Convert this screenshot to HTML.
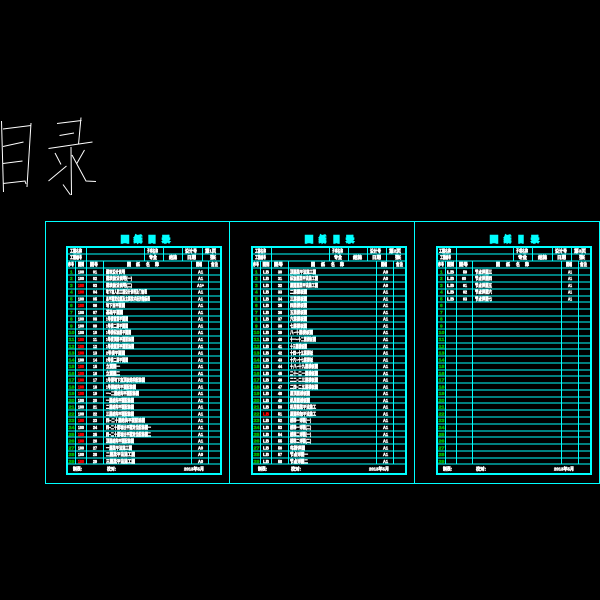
<!DOCTYPE html>
<html lang="zh"><head><meta charset="utf-8"><title>图纸目录</title>
<style>
html,body{margin:0;padding:0;background:#000;width:600px;height:600px;overflow:hidden}
svg{display:block}
.l{fill:none;stroke:#0ff;stroke-width:1;shape-rendering:crispEdges}
.o{fill:none;stroke:#0ff;stroke-width:2;shape-rendering:crispEdges}
text{font-family:"Liberation Sans","Noto Sans CJK SC",sans-serif;font-weight:700;font-size:4.8px;fill:#fff;stroke:#fff;stroke-width:.55;transform:translateY(-.4px)}
.g{fill:#0a0;stroke:#0a0;stroke-width:.5}
.r{fill:#f00;stroke:#f00}
.t{fill:#0ff;stroke:#0ff;font-size:8px;stroke-width:1.6;transform:none}
</style></head><body>
<svg width="600" height="600" viewBox="0 0 600 600" xmlns="http://www.w3.org/2000/svg">
<defs>
<path id="rows" d="M67 254H221M67 261H221M67 268H221M67 275H221M67 282H221M67 289H221M67 296H221M67 302H221M67 309H221M67 316H221M67 322H221M67 329H221M67 336H221M67 343H221M67 349H221M67 356H221M67 363H221M67 370H221M67 376H221M67 383H221M67 390H221M67 397H221M67 403H221M67 410H221M67 417H221M67 424H221M67 431H221M67 437H221M67 444H221M67 451H221M67 458H221M67 464H221"/>
</defs>
<!-- handwritten title -->
<g fill="none" stroke="#fff" stroke-width="1">
<path d="M1.5 121L3.5 192M3 129L31 125.500M31 123L27 187M3 146.500L23.500 142M3 163.500L22.500 161M3 183.500L25 181L26 184"/>
<path d="M57 123.500L81.500 120.500M59.500 135.500L74 133M81 117.500L78.500 144.500M48.500 148.500L92.500 142M71 147L71.500 195M63 184.500L70.500 195M55 153L61 164.500M48.500 181L66.500 166M72 155L86 181L96 181.500M84.500 150L76.500 164"/>
</g>
<!-- outer frames -->
<path class="l" d="M45.500 221.500H599.500V483.500H45.500ZM229.500 221.500V483.500M414.500 221.500V483.500"/>

<!-- PANEL 1 -->
<g>
<text class="t" x="121" y="242" textLength="8" lengthAdjust="spacingAndGlyphs">图</text><text class="t" x="134" y="242" textLength="8" lengthAdjust="spacingAndGlyphs">纸</text><text class="t" x="148" y="242" textLength="8" lengthAdjust="spacingAndGlyphs">目</text><text class="t" x="162" y="242" textLength="8" lengthAdjust="spacingAndGlyphs">录</text>
<use href="#rows" class="l"/>
<path class="o" d="M67 247H221V474H67Z"/>
<path class="l" d="M86.500 247V261M144.500 247V261M163.500 247V261M182.500 247V261M202.500 247V261M75.500 261V464M86.500 261V464M103.500 261V464M191.500 261V464M208.500 261V464"/>
<g>
<text x="70" y="253" textLength="12" lengthAdjust="spacingAndGlyphs">工程名称</text><text x="147" y="253" textLength="11" lengthAdjust="spacingAndGlyphs">子项名称</text><text x="185" y="253" textLength="12" lengthAdjust="spacingAndGlyphs">设计号</text><text x="205" y="253" textLength="11" lengthAdjust="spacingAndGlyphs">第1页</text>
<text x="70" y="259.500" textLength="12" lengthAdjust="spacingAndGlyphs">工程编号</text><text x="149" y="259.500" textLength="8" lengthAdjust="spacingAndGlyphs">专业</text><text x="169" y="259.500" textLength="8" lengthAdjust="spacingAndGlyphs">结施</text><text x="187" y="259.500" textLength="9" lengthAdjust="spacingAndGlyphs">日期</text><text x="210" y="259.500" textLength="6" lengthAdjust="spacingAndGlyphs">张</text>
<text x="68" y="266.500" textLength="6" lengthAdjust="spacingAndGlyphs">序号</text><text x="78" y="266.500" textLength="6" lengthAdjust="spacingAndGlyphs">图别</text><text x="90" y="266.500" textLength="8" lengthAdjust="spacingAndGlyphs">图号</text><text x="127" y="266.500" textLength="4" lengthAdjust="spacingAndGlyphs">图</text><text x="136" y="266.500" textLength="4" lengthAdjust="spacingAndGlyphs">纸</text><text x="146" y="266.500" textLength="4" lengthAdjust="spacingAndGlyphs">名</text><text x="155" y="266.500" textLength="4" lengthAdjust="spacingAndGlyphs">称</text><text x="196" y="266.500" textLength="6" lengthAdjust="spacingAndGlyphs">图幅</text><text x="211" y="266.500" textLength="7" lengthAdjust="spacingAndGlyphs">备注</text>
</g>
<text class="g" x="70" y="273.700">1</text><text x="78" y="273.700" textLength="6" lengthAdjust="spacingAndGlyphs">100</text><text x="93" y="273.700" textLength="4" lengthAdjust="spacingAndGlyphs">01</text><text x="106" y="273.700" textLength="19" lengthAdjust="spacingAndGlyphs">建筑设计说明</text><text x="198" y="273.700" textLength="5" lengthAdjust="spacingAndGlyphs">A1</text>
<text class="g" x="70" y="280.500">2</text><text x="78" y="280.500" textLength="6" lengthAdjust="spacingAndGlyphs">100</text><text x="93" y="280.500" textLength="4" lengthAdjust="spacingAndGlyphs">02</text><text x="106" y="280.500" textLength="26" lengthAdjust="spacingAndGlyphs">建筑做法说明(一)</text><text x="198" y="280.500" textLength="5" lengthAdjust="spacingAndGlyphs">A1</text>
<text class="g" x="70" y="287.200">3</text><text class="r" x="78" y="287.200" textLength="6" lengthAdjust="spacingAndGlyphs">100</text><text x="93" y="287.200" textLength="4" lengthAdjust="spacingAndGlyphs">03</text><text x="106" y="287.200" textLength="26" lengthAdjust="spacingAndGlyphs">建筑做法说明(二)</text><text x="197" y="287.200" textLength="7" lengthAdjust="spacingAndGlyphs">A1+</text>
<text class="g" x="70" y="294">4</text><text class="r" x="78" y="294" textLength="6" lengthAdjust="spacingAndGlyphs">100</text><text x="93" y="294" textLength="4" lengthAdjust="spacingAndGlyphs">04</text><text x="106" y="294" textLength="41" lengthAdjust="spacingAndGlyphs">地下室人防工程设计说明及门窗表</text><text x="198" y="294" textLength="5" lengthAdjust="spacingAndGlyphs">A1</text>
<text class="g" x="70" y="300.800">5</text><text x="78" y="300.800" textLength="6" lengthAdjust="spacingAndGlyphs">100</text><text x="93" y="300.800" textLength="4" lengthAdjust="spacingAndGlyphs">05</text><text x="106" y="300.800" textLength="44" lengthAdjust="spacingAndGlyphs">总平面定位图及主要技术经济指标表</text><text x="198" y="300.800" textLength="5" lengthAdjust="spacingAndGlyphs">A1</text>
<text class="g" x="70" y="307.600">6</text><text class="r" x="78" y="307.600" textLength="6" lengthAdjust="spacingAndGlyphs">100</text><text x="93" y="307.600" textLength="4" lengthAdjust="spacingAndGlyphs">06</text><text x="106" y="307.600" textLength="19" lengthAdjust="spacingAndGlyphs">地下室平面图</text><text x="198" y="307.600" textLength="5" lengthAdjust="spacingAndGlyphs">A1</text>
<text class="g" x="70" y="314.300">7</text><text x="78" y="314.300" textLength="6" lengthAdjust="spacingAndGlyphs">100</text><text x="93" y="314.300" textLength="4" lengthAdjust="spacingAndGlyphs">07</text><text x="106" y="314.300" textLength="17" lengthAdjust="spacingAndGlyphs">基础平面图</text><text x="198" y="314.300" textLength="5" lengthAdjust="spacingAndGlyphs">A1</text>
<text class="g" x="70" y="321.100">8</text><text x="78" y="321.100" textLength="6" lengthAdjust="spacingAndGlyphs">100</text><text x="93" y="321.100" textLength="4" lengthAdjust="spacingAndGlyphs">08</text><text x="106" y="321.100" textLength="22" lengthAdjust="spacingAndGlyphs">1号楼首层平面图</text><text x="198" y="321.100" textLength="5" lengthAdjust="spacingAndGlyphs">A1</text>
<text class="g" x="70" y="327.900">9</text><text x="78" y="327.900" textLength="6" lengthAdjust="spacingAndGlyphs">100</text><text x="93" y="327.900" textLength="4" lengthAdjust="spacingAndGlyphs">09</text><text x="106" y="327.900" textLength="22" lengthAdjust="spacingAndGlyphs">1号楼二层平面图</text><text x="198" y="327.900" textLength="5" lengthAdjust="spacingAndGlyphs">A1</text>
<text class="g" x="68.500" y="334.600" textLength="6" lengthAdjust="spacingAndGlyphs">10</text><text x="78" y="334.600" textLength="6" lengthAdjust="spacingAndGlyphs">100</text><text x="93" y="334.600" textLength="4" lengthAdjust="spacingAndGlyphs">10</text><text x="106" y="334.600" textLength="25" lengthAdjust="spacingAndGlyphs">1号楼标准层平面图</text><text x="198" y="334.600" textLength="5" lengthAdjust="spacingAndGlyphs">A1</text>
<text class="g" x="68.500" y="341.400" textLength="6" lengthAdjust="spacingAndGlyphs">11</text><text class="r" x="78" y="341.400" textLength="6" lengthAdjust="spacingAndGlyphs">100</text><text x="93" y="341.400" textLength="4" lengthAdjust="spacingAndGlyphs">11</text><text x="106" y="341.400" textLength="28" lengthAdjust="spacingAndGlyphs">1号楼顶层平面配筋图</text><text x="198" y="341.400" textLength="5" lengthAdjust="spacingAndGlyphs">A1</text>
<text class="g" x="68.500" y="348.200" textLength="6" lengthAdjust="spacingAndGlyphs">12</text><text class="r" x="78" y="348.200" textLength="6" lengthAdjust="spacingAndGlyphs">100</text><text x="93" y="348.200" textLength="4" lengthAdjust="spacingAndGlyphs">12</text><text x="106" y="348.200" textLength="28" lengthAdjust="spacingAndGlyphs">1号楼屋顶平面配筋图</text><text x="198" y="348.200" textLength="5" lengthAdjust="spacingAndGlyphs">A1</text>
<text class="g" x="68.500" y="354.900" textLength="6" lengthAdjust="spacingAndGlyphs">13</text><text class="r" x="78" y="354.900" textLength="6" lengthAdjust="spacingAndGlyphs">100</text><text x="93" y="354.900" textLength="4" lengthAdjust="spacingAndGlyphs">13</text><text x="106" y="354.900" textLength="19" lengthAdjust="spacingAndGlyphs">2号楼平面图</text><text x="198" y="354.900" textLength="5" lengthAdjust="spacingAndGlyphs">A1</text>
<text class="g" x="68.500" y="361.700" textLength="6" lengthAdjust="spacingAndGlyphs">14</text><text x="78" y="361.700" textLength="6" lengthAdjust="spacingAndGlyphs">100</text><text x="93" y="361.700" textLength="4" lengthAdjust="spacingAndGlyphs">14</text><text x="106" y="361.700" textLength="22" lengthAdjust="spacingAndGlyphs">2号楼二层平面图</text><text x="198" y="361.700" textLength="5" lengthAdjust="spacingAndGlyphs">A1</text>
<text class="g" x="68.500" y="368.500" textLength="6" lengthAdjust="spacingAndGlyphs">15</text><text class="r" x="78" y="368.500" textLength="6" lengthAdjust="spacingAndGlyphs">100</text><text x="93" y="368.500" textLength="4" lengthAdjust="spacingAndGlyphs">15</text><text x="106" y="368.500" textLength="14" lengthAdjust="spacingAndGlyphs">立面图一</text><text x="198" y="368.500" textLength="5" lengthAdjust="spacingAndGlyphs">A1</text>
<text class="g" x="68.500" y="375.300" textLength="6" lengthAdjust="spacingAndGlyphs">16</text><text class="r" x="78" y="375.300" textLength="6" lengthAdjust="spacingAndGlyphs">100</text><text x="93" y="375.300" textLength="4" lengthAdjust="spacingAndGlyphs">16</text><text x="106" y="375.300" textLength="14" lengthAdjust="spacingAndGlyphs">立面图二</text><text x="198" y="375.300" textLength="5" lengthAdjust="spacingAndGlyphs">A1</text>
<text class="g" x="68.500" y="382" textLength="6" lengthAdjust="spacingAndGlyphs">17</text><text class="r" x="78" y="382" textLength="6" lengthAdjust="spacingAndGlyphs">100</text><text x="93" y="382" textLength="4" lengthAdjust="spacingAndGlyphs">17</text><text x="106" y="382" textLength="39" lengthAdjust="spacingAndGlyphs">1号楼地下室顶板结构配筋图</text><text x="198" y="382" textLength="5" lengthAdjust="spacingAndGlyphs">A1</text>
<text class="g" x="68.500" y="388.800" textLength="6" lengthAdjust="spacingAndGlyphs">18</text><text class="r" x="78" y="388.800" textLength="6" lengthAdjust="spacingAndGlyphs">100</text><text x="93" y="388.800" textLength="4" lengthAdjust="spacingAndGlyphs">18</text><text x="106" y="388.800" textLength="30" lengthAdjust="spacingAndGlyphs">1号楼结构平面配筋图</text><text x="198" y="388.800" textLength="5" lengthAdjust="spacingAndGlyphs">A1</text>
<text class="g" x="68.500" y="395.600" textLength="6" lengthAdjust="spacingAndGlyphs">19</text><text class="r" x="78" y="395.600" textLength="6" lengthAdjust="spacingAndGlyphs">100</text><text x="93" y="395.600" textLength="4" lengthAdjust="spacingAndGlyphs">19</text><text x="106" y="395.600" textLength="33" lengthAdjust="spacingAndGlyphs">一~二层结构平面配筋图</text><text x="198" y="395.600" textLength="5" lengthAdjust="spacingAndGlyphs">A1</text>
<text class="g" x="68.500" y="402.300" textLength="6" lengthAdjust="spacingAndGlyphs">20</text><text x="78" y="402.300" textLength="6" lengthAdjust="spacingAndGlyphs">100</text><text x="93" y="402.300" textLength="4" lengthAdjust="spacingAndGlyphs">20</text><text x="106" y="402.300" textLength="28" lengthAdjust="spacingAndGlyphs">一层结构平面配筋图</text><text x="198" y="402.300" textLength="5" lengthAdjust="spacingAndGlyphs">A1</text>
<text class="g" x="68.500" y="409.100" textLength="6" lengthAdjust="spacingAndGlyphs">21</text><text x="78" y="409.100" textLength="6" lengthAdjust="spacingAndGlyphs">100</text><text x="93" y="409.100" textLength="4" lengthAdjust="spacingAndGlyphs">21</text><text x="106" y="409.100" textLength="28" lengthAdjust="spacingAndGlyphs">二层结构平面配筋图</text><text x="198" y="409.100" textLength="5" lengthAdjust="spacingAndGlyphs">A1</text>
<text class="g" x="68.500" y="415.900" textLength="6" lengthAdjust="spacingAndGlyphs">22</text><text x="78" y="415.900" textLength="6" lengthAdjust="spacingAndGlyphs">100</text><text x="93" y="415.900" textLength="4" lengthAdjust="spacingAndGlyphs">22</text><text x="106" y="415.900" textLength="28" lengthAdjust="spacingAndGlyphs">三层结构平面配筋图</text><text x="198" y="415.900" textLength="5" lengthAdjust="spacingAndGlyphs">A1</text>
<text class="g" x="68.500" y="422.600" textLength="6" lengthAdjust="spacingAndGlyphs">23</text><text class="r" x="78" y="422.600" textLength="6" lengthAdjust="spacingAndGlyphs">100</text><text x="93" y="422.600" textLength="4" lengthAdjust="spacingAndGlyphs">23</text><text x="106" y="422.600" textLength="39" lengthAdjust="spacingAndGlyphs">四~二十层结构平面配筋图</text><text x="198" y="422.600" textLength="5" lengthAdjust="spacingAndGlyphs">A1</text>
<text class="g" x="68.500" y="429.400" textLength="6" lengthAdjust="spacingAndGlyphs">24</text><text x="78" y="429.400" textLength="6" lengthAdjust="spacingAndGlyphs">100</text><text x="93" y="429.400" textLength="4" lengthAdjust="spacingAndGlyphs">24</text><text x="106" y="429.400" textLength="45" lengthAdjust="spacingAndGlyphs">四~二十层墙柱平面定位配筋图一</text><text x="198" y="429.400" textLength="5" lengthAdjust="spacingAndGlyphs">A1</text>
<text class="g" x="68.500" y="436.200" textLength="6" lengthAdjust="spacingAndGlyphs">25</text><text class="r" x="78" y="436.200" textLength="6" lengthAdjust="spacingAndGlyphs">100</text><text x="93" y="436.200" textLength="4" lengthAdjust="spacingAndGlyphs">25</text><text x="106" y="436.200" textLength="45" lengthAdjust="spacingAndGlyphs">四~二十层墙柱平面定位配筋图二</text><text x="198" y="436.200" textLength="5" lengthAdjust="spacingAndGlyphs">A1</text>
<text class="g" x="68.500" y="443" textLength="6" lengthAdjust="spacingAndGlyphs">26</text><text class="r" x="78" y="443" textLength="6" lengthAdjust="spacingAndGlyphs">100</text><text x="93" y="443" textLength="4" lengthAdjust="spacingAndGlyphs">26</text><text x="106" y="443" textLength="28" lengthAdjust="spacingAndGlyphs">顶层结构平面配筋图</text><text x="198" y="443" textLength="5" lengthAdjust="spacingAndGlyphs">A1</text>
<text class="g" x="68.500" y="449.700" textLength="6" lengthAdjust="spacingAndGlyphs">27</text><text x="78" y="449.700" textLength="6" lengthAdjust="spacingAndGlyphs">100</text><text x="93" y="449.700" textLength="4" lengthAdjust="spacingAndGlyphs">27</text><text x="106" y="449.700" textLength="26" lengthAdjust="spacingAndGlyphs">一层梁平法施工图</text><text x="198" y="449.700" textLength="5" lengthAdjust="spacingAndGlyphs">A0</text>
<text class="g" x="68.500" y="456.500" textLength="6" lengthAdjust="spacingAndGlyphs">28</text><text x="78" y="456.500" textLength="6" lengthAdjust="spacingAndGlyphs">100</text><text x="93" y="456.500" textLength="4" lengthAdjust="spacingAndGlyphs">28</text><text x="106" y="456.500" textLength="29" lengthAdjust="spacingAndGlyphs">二层梁平法施工图</text><text x="198" y="456.500" textLength="5" lengthAdjust="spacingAndGlyphs">A0</text>
<text class="g" x="68.500" y="463.300" textLength="6" lengthAdjust="spacingAndGlyphs">29</text><text class="r" x="78" y="463.300" textLength="6" lengthAdjust="spacingAndGlyphs">100</text><text x="93" y="463.300" textLength="4" lengthAdjust="spacingAndGlyphs">29</text><text x="106" y="463.300" textLength="29" lengthAdjust="spacingAndGlyphs">三层梁平法施工图</text><text x="198" y="463.300" textLength="5" lengthAdjust="spacingAndGlyphs">A0</text>
<text x="73" y="471" textLength="9" lengthAdjust="spacingAndGlyphs">制表:</text><text x="107" y="471" textLength="9" lengthAdjust="spacingAndGlyphs">校对:</text><text x="184" y="471" textLength="20" lengthAdjust="spacingAndGlyphs">2013年5月</text>
</g>

<!-- PANEL 2 -->
<g transform="translate(185 0)">
<text class="t" x="120" y="242" textLength="8" lengthAdjust="spacingAndGlyphs">图</text><text class="t" x="134" y="242" textLength="7" lengthAdjust="spacingAndGlyphs">纸</text><text class="t" x="148" y="242" textLength="7" lengthAdjust="spacingAndGlyphs">目</text><text class="t" x="161" y="242" textLength="8" lengthAdjust="spacingAndGlyphs">录</text>
<use href="#rows" class="l"/>
<path class="o" d="M67 247H221V474H67Z"/>
<path class="l" d="M86.500 247V261M144.500 247V261M163.500 247V261M182.500 247V261M201.500 247V261M75.500 261V464M86.500 261V464M103.500 261V464M191.500 261V464M208.500 261V464"/>
<text x="70" y="253" textLength="11" lengthAdjust="spacingAndGlyphs">工程名称</text><text x="147" y="253" textLength="11" lengthAdjust="spacingAndGlyphs">子项名称</text><text x="185" y="253" textLength="11" lengthAdjust="spacingAndGlyphs">设计号</text><text x="204" y="253" textLength="12" lengthAdjust="spacingAndGlyphs">第2页</text>
<text x="70" y="259.500" textLength="11" lengthAdjust="spacingAndGlyphs">工程编号</text><text x="149" y="259.500" textLength="8" lengthAdjust="spacingAndGlyphs">专业</text><text x="168" y="259.500" textLength="9" lengthAdjust="spacingAndGlyphs">结施</text><text x="187" y="259.500" textLength="9" lengthAdjust="spacingAndGlyphs">日期</text><text x="210" y="259.500" textLength="6" lengthAdjust="spacingAndGlyphs">张</text>
<text x="68" y="266.500" textLength="6" lengthAdjust="spacingAndGlyphs">序号</text><text x="77.500" y="266.500" textLength="7" lengthAdjust="spacingAndGlyphs">图别</text><text x="89" y="266.500" textLength="9" lengthAdjust="spacingAndGlyphs">图号</text><text x="126" y="266.500" textLength="4" lengthAdjust="spacingAndGlyphs">图</text><text x="136" y="266.500" textLength="4" lengthAdjust="spacingAndGlyphs">纸</text><text x="146" y="266.500" textLength="4" lengthAdjust="spacingAndGlyphs">名</text><text x="155" y="266.500" textLength="4" lengthAdjust="spacingAndGlyphs">称</text><text x="196" y="266.500" textLength="6" lengthAdjust="spacingAndGlyphs">图幅</text><text x="211" y="266.500" textLength="7" lengthAdjust="spacingAndGlyphs">备注</text>
<text class="g" x="70" y="273.700">1</text><text x="78" y="273.700" textLength="6" lengthAdjust="spacingAndGlyphs">LB</text><text x="93" y="273.700" textLength="4" lengthAdjust="spacingAndGlyphs">30</text><text x="105" y="273.700" textLength="26" lengthAdjust="spacingAndGlyphs">顶层梁平法施工图</text><text x="198" y="273.700" textLength="5" lengthAdjust="spacingAndGlyphs">A0</text>
<text class="g" x="70" y="280.500">2</text><text x="78" y="280.500" textLength="6" lengthAdjust="spacingAndGlyphs">LB</text><text x="93" y="280.500" textLength="4" lengthAdjust="spacingAndGlyphs">31</text><text x="105" y="280.500" textLength="28" lengthAdjust="spacingAndGlyphs">标准层梁平法施工图</text><text x="198" y="280.500" textLength="5" lengthAdjust="spacingAndGlyphs">A0</text>
<text class="g" x="70" y="287.200">3</text><text x="78" y="287.200" textLength="6" lengthAdjust="spacingAndGlyphs">LB</text><text x="93" y="287.200" textLength="4" lengthAdjust="spacingAndGlyphs">32</text><text x="105" y="287.200" textLength="28" lengthAdjust="spacingAndGlyphs">屋面层梁平法施工图</text><text x="198" y="287.200" textLength="5" lengthAdjust="spacingAndGlyphs">A0</text>
<text class="g" x="70" y="294">4</text><text x="78" y="294" textLength="6" lengthAdjust="spacingAndGlyphs">LB</text><text x="93" y="294" textLength="4" lengthAdjust="spacingAndGlyphs">33</text><text x="105" y="294" textLength="17" lengthAdjust="spacingAndGlyphs">二层楼板图</text><text x="198" y="294" textLength="5" lengthAdjust="spacingAndGlyphs">A1</text>
<text class="g" x="70" y="300.800">5</text><text x="78" y="300.800" textLength="6" lengthAdjust="spacingAndGlyphs">LB</text><text x="93" y="300.800" textLength="4" lengthAdjust="spacingAndGlyphs">34</text><text x="105" y="300.800" textLength="17" lengthAdjust="spacingAndGlyphs">三层楼板图</text><text x="198" y="300.800" textLength="5" lengthAdjust="spacingAndGlyphs">A1</text>
<text class="g" x="70" y="307.600">6</text><text x="78" y="307.600" textLength="6" lengthAdjust="spacingAndGlyphs">LB</text><text x="93" y="307.600" textLength="4" lengthAdjust="spacingAndGlyphs">35</text><text x="105" y="307.600" textLength="17" lengthAdjust="spacingAndGlyphs">四层楼板图</text><text x="198" y="307.600" textLength="5" lengthAdjust="spacingAndGlyphs">A1</text>
<text class="g" x="70" y="314.300">7</text><text x="78" y="314.300" textLength="6" lengthAdjust="spacingAndGlyphs">LB</text><text x="93" y="314.300" textLength="4" lengthAdjust="spacingAndGlyphs">36</text><text x="105" y="314.300" textLength="17" lengthAdjust="spacingAndGlyphs">五层楼板图</text><text x="198" y="314.300" textLength="5" lengthAdjust="spacingAndGlyphs">A1</text>
<text class="g" x="70" y="321.100">8</text><text x="78" y="321.100" textLength="6" lengthAdjust="spacingAndGlyphs">LB</text><text x="93" y="321.100" textLength="4" lengthAdjust="spacingAndGlyphs">37</text><text x="105" y="321.100" textLength="17" lengthAdjust="spacingAndGlyphs">六层楼板图</text><text x="198" y="321.100" textLength="5" lengthAdjust="spacingAndGlyphs">A1</text>
<text class="g" x="70" y="327.900">9</text><text x="78" y="327.900" textLength="6" lengthAdjust="spacingAndGlyphs">LB</text><text x="93" y="327.900" textLength="4" lengthAdjust="spacingAndGlyphs">38</text><text x="105" y="327.900" textLength="17" lengthAdjust="spacingAndGlyphs">七层楼板图</text><text x="198" y="327.900" textLength="5" lengthAdjust="spacingAndGlyphs">A1</text>
<text class="g" x="68.500" y="334.600" textLength="6" lengthAdjust="spacingAndGlyphs">10</text><text x="78" y="334.600" textLength="6" lengthAdjust="spacingAndGlyphs">LB</text><text x="93" y="334.600" textLength="4" lengthAdjust="spacingAndGlyphs">39</text><text x="105" y="334.600" textLength="23" lengthAdjust="spacingAndGlyphs">八~十层楼板图</text><text x="198" y="334.600" textLength="5" lengthAdjust="spacingAndGlyphs">A1</text>
<text class="g" x="68.500" y="341.400" textLength="6" lengthAdjust="spacingAndGlyphs">11</text><text x="78" y="341.400" textLength="6" lengthAdjust="spacingAndGlyphs">LB</text><text x="93" y="341.400" textLength="4" lengthAdjust="spacingAndGlyphs">40</text><text x="105" y="341.400" textLength="26" lengthAdjust="spacingAndGlyphs">十一~十二层楼板图</text><text x="198" y="341.400" textLength="5" lengthAdjust="spacingAndGlyphs">A1</text>
<text class="g" x="68.500" y="348.200" textLength="6" lengthAdjust="spacingAndGlyphs">12</text><text x="78" y="348.200" textLength="6" lengthAdjust="spacingAndGlyphs">LB</text><text x="93" y="348.200" textLength="4" lengthAdjust="spacingAndGlyphs">41</text><text x="105" y="348.200" textLength="17" lengthAdjust="spacingAndGlyphs">十三层楼板图</text><text x="198" y="348.200" textLength="5" lengthAdjust="spacingAndGlyphs">A1</text>
<text class="g" x="68.500" y="354.900" textLength="6" lengthAdjust="spacingAndGlyphs">13</text><text x="78" y="354.900" textLength="6" lengthAdjust="spacingAndGlyphs">LB</text><text x="93" y="354.900" textLength="4" lengthAdjust="spacingAndGlyphs">42</text><text x="105" y="354.900" textLength="23" lengthAdjust="spacingAndGlyphs">十四~十五层楼板</text><text x="198" y="354.900" textLength="5" lengthAdjust="spacingAndGlyphs">A1</text>
<text class="g" x="68.500" y="361.700" textLength="6" lengthAdjust="spacingAndGlyphs">14</text><text x="78" y="361.700" textLength="6" lengthAdjust="spacingAndGlyphs">LB</text><text x="93" y="361.700" textLength="4" lengthAdjust="spacingAndGlyphs">43</text><text x="105" y="361.700" textLength="23" lengthAdjust="spacingAndGlyphs">十六~十七层楼板</text><text x="198" y="361.700" textLength="5" lengthAdjust="spacingAndGlyphs">A1</text>
<text class="g" x="68.500" y="368.500" textLength="6" lengthAdjust="spacingAndGlyphs">15</text><text x="78" y="368.500" textLength="6" lengthAdjust="spacingAndGlyphs">LB</text><text x="93" y="368.500" textLength="4" lengthAdjust="spacingAndGlyphs">44</text><text x="105" y="368.500" textLength="28" lengthAdjust="spacingAndGlyphs">十八~十九层楼板图</text><text x="198" y="368.500" textLength="5" lengthAdjust="spacingAndGlyphs">A1</text>
<text class="g" x="68.500" y="375.300" textLength="6" lengthAdjust="spacingAndGlyphs">16</text><text x="78" y="375.300" textLength="6" lengthAdjust="spacingAndGlyphs">LB</text><text x="93" y="375.300" textLength="4" lengthAdjust="spacingAndGlyphs">45</text><text x="105" y="375.300" textLength="28" lengthAdjust="spacingAndGlyphs">二十~二一层楼板图</text><text x="198" y="375.300" textLength="5" lengthAdjust="spacingAndGlyphs">A1</text>
<text class="g" x="68.500" y="382" textLength="6" lengthAdjust="spacingAndGlyphs">17</text><text x="78" y="382" textLength="6" lengthAdjust="spacingAndGlyphs">LB</text><text x="93" y="382" textLength="4" lengthAdjust="spacingAndGlyphs">46</text><text x="105" y="382" textLength="28" lengthAdjust="spacingAndGlyphs">二二~二三层楼板图</text><text x="198" y="382" textLength="5" lengthAdjust="spacingAndGlyphs">A1</text>
<text class="g" x="68.500" y="388.800" textLength="6" lengthAdjust="spacingAndGlyphs">18</text><text x="78" y="388.800" textLength="6" lengthAdjust="spacingAndGlyphs">LB</text><text x="93" y="388.800" textLength="4" lengthAdjust="spacingAndGlyphs">47</text><text x="105" y="388.800" textLength="28" lengthAdjust="spacingAndGlyphs">二四~二五层楼板图</text><text x="198" y="388.800" textLength="5" lengthAdjust="spacingAndGlyphs">A1</text>
<text class="g" x="68.500" y="395.600" textLength="6" lengthAdjust="spacingAndGlyphs">19</text><text x="78" y="395.600" textLength="6" lengthAdjust="spacingAndGlyphs">LB</text><text x="93" y="395.600" textLength="4" lengthAdjust="spacingAndGlyphs">48</text><text x="105" y="395.600" textLength="20" lengthAdjust="spacingAndGlyphs">屋顶层楼板图</text><text x="198" y="395.600" textLength="5" lengthAdjust="spacingAndGlyphs">A1</text>
<text class="g" x="68.500" y="402.300" textLength="6" lengthAdjust="spacingAndGlyphs">20</text><text x="78" y="402.300" textLength="6" lengthAdjust="spacingAndGlyphs">LB</text><text x="93" y="402.300" textLength="4" lengthAdjust="spacingAndGlyphs">49</text><text x="105" y="402.300" textLength="20" lengthAdjust="spacingAndGlyphs">机房层楼板图</text><text x="198" y="402.300" textLength="5" lengthAdjust="spacingAndGlyphs">A1</text>
<text class="g" x="68.500" y="409.100" textLength="6" lengthAdjust="spacingAndGlyphs">21</text><text x="78" y="409.100" textLength="6" lengthAdjust="spacingAndGlyphs">LB</text><text x="93" y="409.100" textLength="4" lengthAdjust="spacingAndGlyphs">50</text><text x="105" y="409.100" textLength="26" lengthAdjust="spacingAndGlyphs">机房层梁平法施工</text><text x="198" y="409.100" textLength="5" lengthAdjust="spacingAndGlyphs">A1</text>
<text class="g" x="68.500" y="415.900" textLength="6" lengthAdjust="spacingAndGlyphs">22</text><text class="r" x="78" y="415.900" textLength="6" lengthAdjust="spacingAndGlyphs">LB</text><text x="93" y="415.900" textLength="4" lengthAdjust="spacingAndGlyphs">51</text><text x="105" y="415.900" textLength="26" lengthAdjust="spacingAndGlyphs">屋面构架平法施工</text><text x="198" y="415.900" textLength="5" lengthAdjust="spacingAndGlyphs">A1</text>
<text class="g" x="68.500" y="422.600" textLength="6" lengthAdjust="spacingAndGlyphs">23</text><text x="78" y="422.600" textLength="6" lengthAdjust="spacingAndGlyphs">LB</text><text x="93" y="422.600" textLength="4" lengthAdjust="spacingAndGlyphs">52</text><text x="105" y="422.600" textLength="21" lengthAdjust="spacingAndGlyphs">楼梯一详图(一)</text><text x="198" y="422.600" textLength="5" lengthAdjust="spacingAndGlyphs">A1</text>
<text class="g" x="68.500" y="429.400" textLength="6" lengthAdjust="spacingAndGlyphs">24</text><text x="78" y="429.400" textLength="6" lengthAdjust="spacingAndGlyphs">LB</text><text x="93" y="429.400" textLength="4" lengthAdjust="spacingAndGlyphs">53</text><text x="105" y="429.400" textLength="21" lengthAdjust="spacingAndGlyphs">楼梯一详图(二)</text><text x="198" y="429.400" textLength="5" lengthAdjust="spacingAndGlyphs">A1</text>
<text class="g" x="68.500" y="436.200" textLength="6" lengthAdjust="spacingAndGlyphs">25</text><text x="78" y="436.200" textLength="6" lengthAdjust="spacingAndGlyphs">LB</text><text x="93" y="436.200" textLength="4" lengthAdjust="spacingAndGlyphs">54</text><text x="105" y="436.200" textLength="21" lengthAdjust="spacingAndGlyphs">楼梯二详图(一)</text><text x="198" y="436.200" textLength="5" lengthAdjust="spacingAndGlyphs">A1</text>
<text class="g" x="68.500" y="443" textLength="6" lengthAdjust="spacingAndGlyphs">26</text><text x="78" y="443" textLength="6" lengthAdjust="spacingAndGlyphs">LB</text><text x="93" y="443" textLength="4" lengthAdjust="spacingAndGlyphs">55</text><text x="105" y="443" textLength="21" lengthAdjust="spacingAndGlyphs">楼梯二详图(二)</text><text x="198" y="443" textLength="5" lengthAdjust="spacingAndGlyphs">A1</text>
<text class="g" x="68.500" y="449.700" textLength="6" lengthAdjust="spacingAndGlyphs">27</text><text x="78" y="449.700" textLength="6" lengthAdjust="spacingAndGlyphs">LB</text><text x="93" y="449.700" textLength="4" lengthAdjust="spacingAndGlyphs">56</text><text x="105" y="449.700" textLength="15" lengthAdjust="spacingAndGlyphs">电梯详图</text><text x="198" y="449.700" textLength="5" lengthAdjust="spacingAndGlyphs">A1</text>
<text class="g" x="68.500" y="456.500" textLength="6" lengthAdjust="spacingAndGlyphs">28</text><text x="78" y="456.500" textLength="6" lengthAdjust="spacingAndGlyphs">LB</text><text x="93" y="456.500" textLength="4" lengthAdjust="spacingAndGlyphs">57</text><text x="105" y="456.500" textLength="18" lengthAdjust="spacingAndGlyphs">节点详图一</text><text x="198" y="456.500" textLength="5" lengthAdjust="spacingAndGlyphs">A1</text>
<text class="g" x="68.500" y="463.300" textLength="6" lengthAdjust="spacingAndGlyphs">29</text><text x="78" y="463.300" textLength="6" lengthAdjust="spacingAndGlyphs">LB</text><text x="93" y="463.300" textLength="4" lengthAdjust="spacingAndGlyphs">58</text><text x="105" y="463.300" textLength="18" lengthAdjust="spacingAndGlyphs">节点详图二</text><text x="198" y="463.300" textLength="5" lengthAdjust="spacingAndGlyphs">A1</text>
<text x="73" y="471" textLength="9" lengthAdjust="spacingAndGlyphs">制表:</text><text x="106" y="471" textLength="10" lengthAdjust="spacingAndGlyphs">校对:</text><text x="184" y="471" textLength="20" lengthAdjust="spacingAndGlyphs">2013年5月</text>
</g>

<!-- PANEL 3 -->
<g transform="translate(370 0)">
<text class="t" x="120" y="242" textLength="8" lengthAdjust="spacingAndGlyphs">图</text><text class="t" x="134" y="242" textLength="7" lengthAdjust="spacingAndGlyphs">纸</text><text class="t" x="148" y="242" textLength="6" lengthAdjust="spacingAndGlyphs">目</text><text class="t" x="161" y="242" textLength="8" lengthAdjust="spacingAndGlyphs">录</text>
<use href="#rows" class="l"/>
<path class="o" d="M67 247H221V474H67Z"/>
<path class="l" d="M86.500 247V261M143.500 247V261M162.500 247V261M182.500 247V261M201.500 247V261M75.500 261V464M86.500 261V464M102.500 261V464M191.500 261V464M208.500 261V464"/>
<text x="69" y="253" textLength="12" lengthAdjust="spacingAndGlyphs">工程名称</text><text x="146" y="253" textLength="12" lengthAdjust="spacingAndGlyphs">子项名称</text><text x="185" y="253" textLength="12" lengthAdjust="spacingAndGlyphs">设计号</text><text x="204" y="253" textLength="12" lengthAdjust="spacingAndGlyphs">第3页</text>
<text x="70" y="259.500" textLength="11" lengthAdjust="spacingAndGlyphs">工程编号</text><text x="148" y="259.500" textLength="9" lengthAdjust="spacingAndGlyphs">专业</text><text x="168" y="259.500" textLength="9" lengthAdjust="spacingAndGlyphs">结施</text><text x="187" y="259.500" textLength="9" lengthAdjust="spacingAndGlyphs">日期</text><text x="209" y="259.500" textLength="6" lengthAdjust="spacingAndGlyphs">张</text>
<text x="68" y="266.500" textLength="6" lengthAdjust="spacingAndGlyphs">序号</text><text x="77" y="266.500" textLength="7" lengthAdjust="spacingAndGlyphs">图别</text><text x="89" y="266.500" textLength="9" lengthAdjust="spacingAndGlyphs">图号</text><text x="126" y="266.500" textLength="4" lengthAdjust="spacingAndGlyphs">图</text><text x="136" y="266.500" textLength="4" lengthAdjust="spacingAndGlyphs">纸</text><text x="146" y="266.500" textLength="4" lengthAdjust="spacingAndGlyphs">名</text><text x="155" y="266.500" textLength="4" lengthAdjust="spacingAndGlyphs">称</text><text x="196" y="266.500" textLength="6" lengthAdjust="spacingAndGlyphs">图幅</text><text x="210" y="266.500" textLength="7" lengthAdjust="spacingAndGlyphs">备注</text>
<text class="g" x="70" y="273.700">1</text><text x="77" y="273.700" textLength="7" lengthAdjust="spacingAndGlyphs">LB</text><text x="93" y="273.700" textLength="4" lengthAdjust="spacingAndGlyphs">59</text><text x="105" y="273.700" textLength="17" lengthAdjust="spacingAndGlyphs">节点详图三</text><text x="198" y="273.700" textLength="4" lengthAdjust="spacingAndGlyphs">A1</text>
<text class="g" x="70" y="280.500">2</text><text x="77" y="280.500" textLength="7" lengthAdjust="spacingAndGlyphs">LB</text><text x="92" y="280.500" textLength="4" lengthAdjust="spacingAndGlyphs">60</text><text x="105" y="280.500" textLength="17" lengthAdjust="spacingAndGlyphs">节点详图四</text><text x="198" y="280.500" textLength="4" lengthAdjust="spacingAndGlyphs">A1</text>
<text class="g" x="70" y="287.200">3</text><text x="77" y="287.200" textLength="7" lengthAdjust="spacingAndGlyphs">LB</text><text x="93" y="287.200" textLength="4" lengthAdjust="spacingAndGlyphs">61</text><text x="105" y="287.200" textLength="17" lengthAdjust="spacingAndGlyphs">节点详图五</text><text x="198" y="287.200" textLength="4" lengthAdjust="spacingAndGlyphs">A1</text>
<text class="g" x="70" y="294">4</text><text x="77" y="294" textLength="7" lengthAdjust="spacingAndGlyphs">LB</text><text x="93" y="294" textLength="4" lengthAdjust="spacingAndGlyphs">62</text><text x="105" y="294" textLength="17" lengthAdjust="spacingAndGlyphs">节点详图六</text><text x="198" y="294" textLength="4" lengthAdjust="spacingAndGlyphs">A1</text>
<text class="g" x="70" y="300.800">5</text><text x="77" y="300.800" textLength="7" lengthAdjust="spacingAndGlyphs">LB</text><text x="93" y="300.800" textLength="4" lengthAdjust="spacingAndGlyphs">63</text><text x="105" y="300.800" textLength="17" lengthAdjust="spacingAndGlyphs">节点详图七</text><text x="198" y="300.800" textLength="4" lengthAdjust="spacingAndGlyphs">A1</text>
<text class="g" x="70" y="307.600">6</text><text class="g" x="70" y="314.300">7</text><text class="g" x="70" y="321.100">8</text><text class="g" x="70" y="327.900">9</text>
<text class="g" x="68.500" y="334.600" textLength="6" lengthAdjust="spacingAndGlyphs">10</text><text class="g" x="68.500" y="341.400" textLength="6" lengthAdjust="spacingAndGlyphs">11</text><text class="g" x="68.500" y="348.200" textLength="6" lengthAdjust="spacingAndGlyphs">12</text><text class="g" x="68.500" y="354.900" textLength="6" lengthAdjust="spacingAndGlyphs">13</text><text class="g" x="68.500" y="361.700" textLength="6" lengthAdjust="spacingAndGlyphs">14</text><text class="g" x="68.500" y="368.500" textLength="6" lengthAdjust="spacingAndGlyphs">15</text><text class="g" x="68.500" y="375.300" textLength="6" lengthAdjust="spacingAndGlyphs">16</text><text class="g" x="68.500" y="382" textLength="6" lengthAdjust="spacingAndGlyphs">17</text><text class="g" x="68.500" y="388.800" textLength="6" lengthAdjust="spacingAndGlyphs">18</text><text class="g" x="68.500" y="395.600" textLength="6" lengthAdjust="spacingAndGlyphs">19</text><text class="g" x="68.500" y="402.300" textLength="6" lengthAdjust="spacingAndGlyphs">20</text><text class="g" x="68.500" y="409.100" textLength="6" lengthAdjust="spacingAndGlyphs">21</text><text class="g" x="68.500" y="415.900" textLength="6" lengthAdjust="spacingAndGlyphs">22</text><text class="g" x="68.500" y="422.600" textLength="6" lengthAdjust="spacingAndGlyphs">23</text><text class="g" x="68.500" y="429.400" textLength="6" lengthAdjust="spacingAndGlyphs">24</text><text class="g" x="68.500" y="436.200" textLength="6" lengthAdjust="spacingAndGlyphs">25</text><text class="g" x="68.500" y="443" textLength="6" lengthAdjust="spacingAndGlyphs">26</text><text class="g" x="68.500" y="449.700" textLength="6" lengthAdjust="spacingAndGlyphs">27</text><text class="g" x="68.500" y="456.500" textLength="6" lengthAdjust="spacingAndGlyphs">28</text><text class="g" x="68.500" y="463.300" textLength="6" lengthAdjust="spacingAndGlyphs">29</text>
<text x="73" y="471" textLength="9" lengthAdjust="spacingAndGlyphs">制表:</text><text x="106" y="471" textLength="10" lengthAdjust="spacingAndGlyphs">校对:</text><text x="184" y="471" textLength="20" lengthAdjust="spacingAndGlyphs">2013年5月</text>
</g>
</svg>
</body></html>
